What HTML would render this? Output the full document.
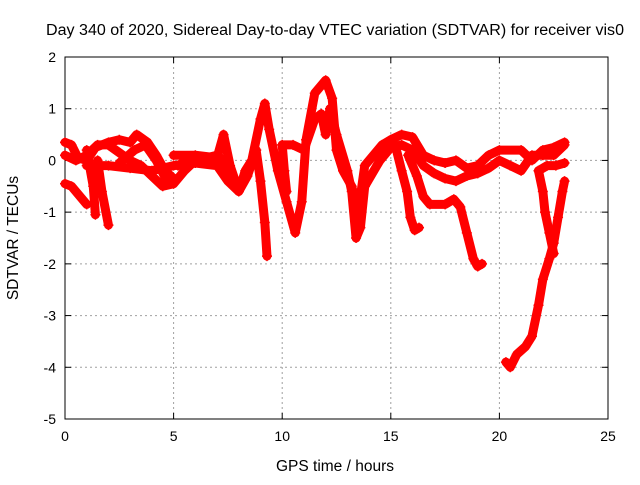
<!DOCTYPE html>
<html><head><meta charset="utf-8"><style>
body{margin:0;background:#fff}
svg text{font-family:"Liberation Sans",sans-serif;font-size:14px;fill:#000}
</style></head><body>
<svg id="chart" width="640" height="480" viewBox="0 0 640 480">
<rect width="640" height="480" fill="#fff"/>
<text x="335" y="35" text-anchor="middle" textLength="578" lengthAdjust="spacingAndGlyphs" style="font-size:15.5px">Day 340 of 2020, Sidereal Day-to-day VTEC variation (SDTVAR) for receiver vis0</text>
<g id="grid"></g>
<g id="axes"></g>
<g id="series"></g>
<text x="335" y="471" text-anchor="middle" style="font-size:15.5px">GPS time / hours</text>
<text transform="translate(18,238) rotate(-90)" text-anchor="middle" style="font-size:15.5px">SDTVAR / TECUs</text>
</svg>
<script>
const xTicks=[0,5,10,15,20,25];
const yTicks=[2,1,0,-1,-2,-3,-4,-5];
const trackA=[[0,0.35],[0.3,0.3],[0.6,0.05],[1,0.0],[1.4,0.25],[2,0.35],[2.5,0.4],[3,0.35],[3.3,0.5],[3.8,0.35],[4.2,0.1],[4.6,-0.2],[5,-0.35]];
const trackB=[[0,-0.45],[0.3,-0.5],[0.7,-0.7],[1,-0.85]];
const trackC=[[0,0.1],[0.5,0.0],[1,0.1],[1.5,0.3],[2,0.3],[2.5,0.15],[3,0.0],[3.5,-0.1],[4,-0.3],[4.5,-0.5],[5,-0.45],[5.5,-0.2],[6,0],[6.5,0.05],[7,0.1],[7.3,0.0]];
const trackD1=[[1.0,0.2],[1.3,-0.5],[1.4,-1.05]];
const trackD2=[[1.5,0.0],[1.7,-0.6],[2.0,-1.25]];
const trackE=[[1,-0.1],[2,-0.1],[3,-0.15],[4,-0.2],[5,-0.1],[6,-0.05],[7,-0.1],[7.5,-0.4],[8,-0.6],[8.3,-0.2],[8.6,0.0],[9,0.8],[9.2,1.1],[9.4,0.6],[9.8,-0.2],[10.2,-0.8],[10.6,-1.4],[10.9,-0.8],[11.1,0.4],[11.5,1.3],[12,1.55],[12.3,1.2],[12.5,0.2],[12.8,-0.2],[13.2,-0.5],[13.5,-1.0],[13.8,-0.1],[14.2,0.1],[14.6,0.3],[15,0.4],[15.5,0.5],[16,0.45],[16.5,0.1],[17,0.0],[17.5,-0.05],[18,0.0],[18.5,-0.15],[19,-0.1],[19.5,0.1],[20,0.2],[21,0.2],[21.5,0.0],[22,0.2],[22.5,0.25],[23,0.35]];
const trackF=[[5,0.1],[6,0.1],[7,0.05],[7.3,0.5],[7.6,-0.1],[8,-0.6],[8.4,-0.3],[8.8,0.2]];
const trackG=[[8.8,0.2],[9.0,-0.4],[9.2,-1.2],[9.3,-1.85]];
const trackH=[[10,0.3],[10.5,0.3],[11,0.2],[11.5,0.8],[11.8,0.9],[12,0.5],[12.2,1.0],[12.5,0.5],[13,-0.2],[13.2,-0.6],[13.4,-1.5],[13.6,-1.3],[13.8,-0.5]];
const trackI=[[13.8,-0.5],[14.5,0],[15,0.25],[15.5,0.3],[16,0.2],[16.5,-0.1],[17,-0.25],[17.5,-0.35],[18,-0.4],[18.5,-0.3],[19,-0.25],[19.5,-0.15],[20,0],[20.5,-0.1],[21,-0.2],[21.5,0.1],[22,0.1],[22.5,0.1],[23,0.3]];
const trackJ=[[15.2,0.3],[15.5,-0.2],[15.75,-0.6],[15.9,-1.1],[16.1,-1.35],[16.3,-1.3]];
const trackK=[[15.8,0.1],[16.2,-0.3],[16.5,-0.7],[16.8,-0.85],[17.5,-0.85],[17.9,-0.75],[18.2,-0.9],[18.5,-1.4],[18.8,-1.9],[19,-2.05],[19.2,-2.0]];
const trackL=[[20.3,-3.9],[20.5,-4.0],[20.8,-3.75],[21.2,-3.6],[21.5,-3.4],[21.8,-2.8],[22.0,-2.3],[22.3,-1.9],[22.5,-1.6],[22.7,-1.1],[22.9,-0.6],[23,-0.4]];
const trackM=[[21.8,-0.2],[22.0,-0.6],[22.1,-1.0],[22.3,-1.4],[22.5,-1.8]];
const trackN=[[21.8,-0.2],[22.2,-0.1],[22.6,-0.1],[23,-0.05]];
const trackO=[[10,0.3],[10.1,-0.2],[10.2,-0.6]];
const trackP=[[5.2,-0.1],[5.8,0.05],[6.4,-0.05],[7,0.1],[7.4,-0.2]];
const trackQ=[[2.5,-0.05],[3.2,0.2],[3.7,0.3],[4.2,0.0],[4.7,-0.4]];
const tracks=[trackA,trackB,trackC,trackD1,trackD2,trackE,trackF,trackG,trackH,trackI,trackJ,trackK,trackL,trackM,trackN,trackO,trackP,trackQ];

const X0=65,X1=608,Y0=57,Y1=419,xMin=0,xMax=25,yMin=-5,yMax=2;
const sx=h=>X0+(h-xMin)/(xMax-xMin)*(X1-X0);
const sy=v=>Y1-(v-yMin)/(yMax-yMin)*(Y1-Y0);
const NS="http://www.w3.org/2000/svg";
function mk(tag,attrs,parent){const e=document.createElementNS(NS,tag);for(const k in attrs)e.setAttribute(k,attrs[k]);parent.appendChild(e);return e;}
const grid=document.getElementById('grid'),axes=document.getElementById('axes'),ser=document.getElementById('series');
xTicks.forEach(t=>{const x=sx(t);
 if(t>xMin&&t<xMax){const l=mk('line',{x1:x,y1:Y0,x2:x,y2:Y1,stroke:'#a0a0a0','stroke-dasharray':'2,3'},grid);
 
 }
 mk('line',{x1:x,y1:Y1,x2:x,y2:Y1-6,stroke:'#000'},axes);mk('line',{x1:x,y1:Y0,x2:x,y2:Y0+6,stroke:'#000'},axes);
 const tx=mk('text',{x:x,y:Y1+22,'text-anchor':'middle'},axes);tx.textContent=t;
 
 });
yTicks.forEach(t=>{const y=sy(t);
 if(t>yMin&&t<yMax){const l=mk('line',{x1:X0,y1:y,x2:X1,y2:y,stroke:'#a0a0a0','stroke-dasharray':'2,3'},grid);
 
 }
 mk('line',{x1:X0,y1:y,x2:X0+6,y2:y,stroke:'#000'},axes);mk('line',{x1:X1,y1:y,x2:X1-6,y2:y,stroke:'#000'},axes);
 const tx=mk('text',{x:X0-9,y:y+5,'text-anchor':'end'},axes);tx.textContent=t;
 
 });
mk('rect',{x:X0,y:Y0,width:X1-X0,height:Y1-Y0,fill:'none',stroke:'#000'},axes);
tracks.forEach(tr=>{
 const pl=mk('polyline',{points:tr.map(p=>sx(p[0])+','+sy(p[1])).join(' '),fill:'none',stroke:'#f00','stroke-width':9,'stroke-linejoin':'round','stroke-linecap':'round'},ser);
 
 
 tr.forEach(p=>{const x=sx(p[0]),y=sy(p[1]);
  const m=mk('path',{d:`M${x-5},${y}H${x+5}M${x},${y-5}V${y+5}`,stroke:'#f00','stroke-width':1.5},ser);
  
  });
});
</script>
</body></html>
